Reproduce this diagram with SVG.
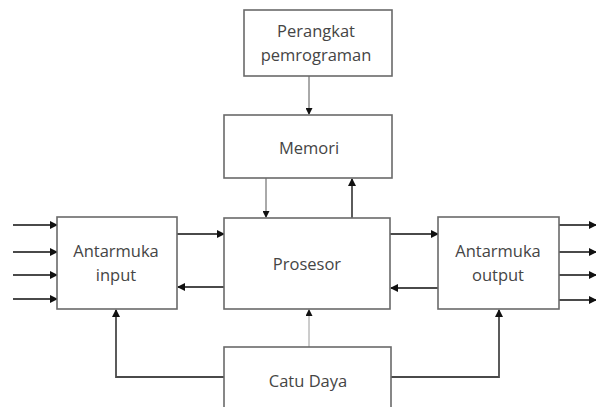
<svg xmlns="http://www.w3.org/2000/svg" width="596" height="407" viewBox="0 0 596 407">
<style>
.box{fill:#fff;stroke:#6a6a6a;stroke-width:1.6}
.t{font-family:"Open Sans","Liberation Sans",sans-serif;font-size:16.5px;fill:#454545;text-anchor:middle}
.c{fill:none;stroke:#4a4a4a;stroke-width:1.8}
.thin{fill:none;stroke:#555;stroke-width:1}
.lt{fill:none;stroke:#9a9a9a;stroke-width:1}
</style>
<defs>
<marker id="a" markerWidth="8" markerHeight="8" refX="7" refY="4" orient="auto" markerUnits="userSpaceOnUse">
<path d="M0,0 L8,4 L0,8 z" fill="#111"/>
</marker>
<marker id="s" markerWidth="7" markerHeight="7" refX="6" refY="3.5" orient="auto" markerUnits="userSpaceOnUse">
<path d="M0,0 L7,3.5 L0,7 z" fill="#111"/>
</marker>
</defs>
<rect width="596" height="407" fill="#fff"/>
<g id="connectors">
<path class="thin" d="M309,76 V114" marker-end="url(#s)"/>
<path class="thin" d="M266,178 V217" marker-end="url(#s)"/>
<path class="c" d="M352,218 V179" marker-end="url(#a)"/>
<path class="c" d="M13,225 H57" marker-end="url(#a)"/>
<path class="c" d="M13,252 H57" marker-end="url(#a)"/>
<path class="c" d="M13,275 H57" marker-end="url(#a)"/>
<path class="c" d="M13,299 H57" marker-end="url(#a)"/>
<path class="c" d="M177,234 H224" marker-end="url(#a)"/>
<path class="c" d="M224,287 H178" marker-end="url(#a)"/>
<path class="c" d="M390,234 H438" marker-end="url(#a)"/>
<path class="c" d="M438,288 H391" marker-end="url(#a)"/>
<path class="c" d="M559,225 H596" marker-end="url(#a)"/>
<path class="c" d="M559,252 H596" marker-end="url(#a)"/>
<path class="c" d="M559,275 H596" marker-end="url(#a)"/>
<path class="c" d="M559,300 H596" marker-end="url(#a)"/>
<path class="c" d="M224,377 H116 V310" marker-end="url(#a)"/>
<path class="c" d="M391,377 H499 V310" marker-end="url(#a)"/>
<path class="lt" d="M309,347 V310" marker-end="url(#s)"/>
</g>
<g id="perangkat">
<rect class="box" x="244" y="10" width="148" height="66"/>
<text class="t" x="316" y="37">Perangkat</text>
<text class="t" x="316" y="61">pemrograman</text>
</g>
<g id="memori">
<rect class="box" x="224" y="115" width="168" height="63"/>
<text class="t" x="309" y="154">Memori</text>
</g>
<g id="prosesor">
<rect class="box" x="224" y="218" width="166" height="91"/>
<text class="t" x="307" y="270">Prosesor</text>
</g>
<g id="input">
<rect class="box" x="57" y="217" width="120" height="92"/>
<text class="t" x="116" y="257">Antarmuka</text>
<text class="t" x="116" y="281">input</text>
</g>
<g id="output">
<rect class="box" x="438" y="217" width="121" height="92"/>
<text class="t" x="498" y="257">Antarmuka</text>
<text class="t" x="498" y="281">output</text>
</g>
<g id="catu">
<rect class="box" x="224" y="347" width="167" height="70"/>
<text class="t" x="308" y="387">Catu Daya</text>
</g>
</svg>
